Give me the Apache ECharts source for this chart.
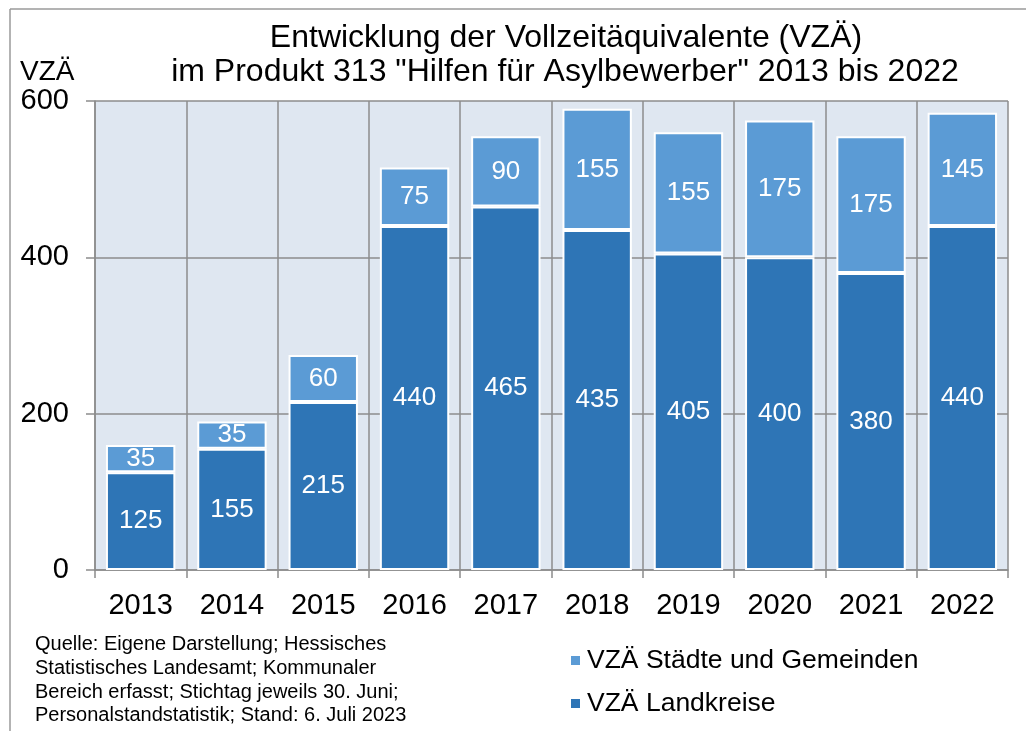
<!DOCTYPE html>
<html>
<head>
<meta charset="utf-8">
<script src="https://cdn.jsdelivr.net/npm/echarts@6/dist/echarts.min.js"></script>
<style>
  html, body { margin: 0; padding: 0; background: #fff; }
  #main { width: 1026px; height: 731px; }
</style>
</head>
<body>
<div id="main"></div>
<script>
// Werte
const years = ['2013', '2014', '2015', '2016', '2017', '2018', '2019', '2020', '2021', '2022'];
const landkreise = [125, 155, 215, 440, 465, 435, 405, 400, 380, 440];
const staedte = [35, 35, 60, 75, 90, 155, 155, 175, 175, 145];
const yTicks = [0, 200, 400, 600];

const FONT = '"Liberation Sans", Arial, sans-serif';
const GRID_COLOR = '#8c8c8c';

let chart = echarts.init(document.getElementById('main'));

let option = {
    animation: false,
    textStyle: { fontFamily: FONT },
    grid: {
        left: 95,
        right: 18,
        top: 101,
        bottom: 161,
        show: true,
        backgroundColor: '#dfe7f1',
        borderWidth: 0
    },
    graphic: [
        { type: 'line', shape: { x1: 10, y1: 9, x2: 1026, y2: 9 }, style: { stroke: '#9a9a9a', lineWidth: 1.5 } },
        { type: 'line', shape: { x1: 10, y1: 9, x2: 10, y2: 731 }, style: { stroke: '#9a9a9a', lineWidth: 1.5 } },
        {
            type: 'text', x: 566, y: 38,
            style: { text: 'Entwicklung der Vollzeitäquivalente (VZÄ)', fontSize: 32, fontFamily: FONT, fill: '#000', align: 'center', verticalAlign: 'middle' }
        },
        {
            type: 'text', x: 565, y: 72,
            style: { text: 'im Produkt 313 "Hilfen für Asylbewerber" 2013 bis 2022', fontSize: 32, fontFamily: FONT, fill: '#000', align: 'center', verticalAlign: 'middle' }
        },
        {
            type: 'text', x: 20, y: 72,
            style: { text: 'VZÄ', fontSize: 28, fontFamily: FONT, fill: '#000', align: 'left', verticalAlign: 'middle' }
        },
        {
            type: 'text', x: 35, y: 633,
            style: {
                text: 'Quelle: Eigene Darstellung; Hessisches\nStatistisches Landesamt; Kommunaler\nBereich erfasst; Stichtag jeweils 30. Juni;\nPersonalstandstatistik; Stand: 6. Juli 2023',
                fontSize: 20, lineHeight: 23.7, fontFamily: FONT, fill: '#000', align: 'left', verticalAlign: 'top'
            }
        }
    ],
    legend: {
        orient: 'vertical',
        left: 564,
        top: 642,
        itemWidth: 11,
        itemHeight: 11,
        itemGap: 16,
        icon: 'rect',
        textStyle: { fontSize: 26.5, color: '#000', fontFamily: FONT, padding: [0, 0, 0, 1] },
        data: ['VZÄ Städte und Gemeinden', 'VZÄ Landkreise']
    },
    xAxis: {
        type: 'category',
        data: years,
        axisLine: { lineStyle: { color: GRID_COLOR, width: 1.5 } },
        axisTick: { show: true, length: 8, lineStyle: { color: GRID_COLOR, width: 1.5 } },
        splitLine: { show: true, lineStyle: { color: GRID_COLOR, width: 1.5 } },
        axisLabel: { fontSize: 29, color: '#000', margin: 21 }
    },
    yAxis: {
        type: 'value',
        min: yTicks[0],
        max: yTicks[yTicks.length - 1],
        interval: 200,
        axisLine: { show: true, lineStyle: { color: GRID_COLOR, width: 1.5 } },
        axisTick: { show: true, length: 9, lineStyle: { color: GRID_COLOR, width: 1.5 } },
        splitLine: { show: true, lineStyle: { color: GRID_COLOR, width: 1.5 } },
        axisLabel: { fontSize: 29, color: '#000', margin: 26 }
    },
    series: [
        {
            name: 'VZÄ Landkreise',
            type: 'bar',
            stack: 'vza',
            data: landkreise,
            barCategoryGap: '24%',
            itemStyle: { color: '#2e75b6', borderColor: '#fff', borderWidth: 2 },
            label: { show: true, position: 'inside', color: '#fff', fontSize: 26, fontFamily: FONT }
        },
        {
            name: 'VZÄ Städte und Gemeinden',
            type: 'bar',
            stack: 'vza',
            data: staedte,
            barCategoryGap: '24%',
            itemStyle: { color: '#5b9bd5', borderColor: '#fff', borderWidth: 2 },
            label: { show: true, position: 'inside', color: '#fff', fontSize: 26, fontFamily: FONT }
        }
    ]
};

chart.setOption(option);
</script>
</body>
</html>
